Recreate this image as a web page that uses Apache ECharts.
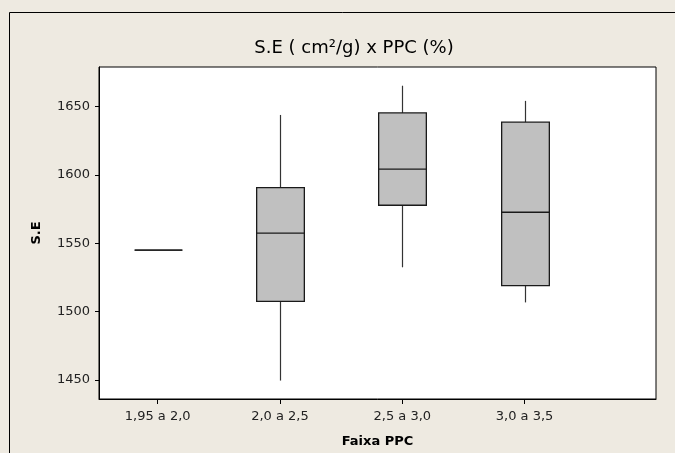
<!DOCTYPE html>
<html>
<head>
<meta charset="utf-8">
<script src="https://cdn.jsdelivr.net/npm/echarts@6/dist/echarts.min.js"></script>
<style>html,body{margin:0;padding:0;background:#EEEAE1;}#c{width:675px;height:453px;}</style>
</head>
<body>
<div id="c"></div>
<script>
// Data
const categories = ['1,95 a 2,0', '2,0 a 2,5', '2,5 a 3,0', '3,0 a 3,5'];
const whiskerLow = [1545, 1449.5, 1532.4, 1506.7];
const q1 = [1545, 1507.4, 1577.8, 1519.0];
const median = [1545, 1557.4, 1604.3, 1572.7];
const q3 = [1545, 1590.7, 1645.4, 1638.6];
const whiskerHigh = [1545, 1643.9, 1665.3, 1654.2];
const yTicks = [1450, 1500, 1550, 1600, 1650];

const positions = categories.map((c, i) => i + 1);
const boxData = categories.map((c, i) => [positions[i], whiskerLow[i], q1[i], median[i], q3[i], whiskerHigh[i]]);

const font = 'DejaVu Sans';
const chart = echarts.init(document.getElementById('c'), null, {renderer: 'canvas'});
chart.setOption({
  animation: false,
  backgroundColor: '#EEEAE1',
  title: {
    text: 'S.E ( cm²/g) x PPC (%)',
    left: 349, top: 34, textAlign: 'center',
    textStyle: {fontFamily: font, fontSize: 18, fontWeight: 'normal', color: '#000'}
  },
  graphic: [{
    type: 'polyline', silent: true,
    shape: {points: [[9.5, 460], [9.5, 12.5], [680, 12.5]]},
    style: {stroke: '#000', lineWidth: 1, fill: null}
  }],
  grid: {left: 99, top: 67, right: 19, bottom: 54, show: true, backgroundColor: '#fff', borderColor: '#000', borderWidth: 1},
  xAxis: {
    type: 'value', min: 0.52, max: 5.075,
    name: 'Faixa PPC', nameLocation: 'middle', nameGap: 36,
    nameTextStyle: {fontFamily: font, fontSize: 13, fontWeight: 'bold', color: '#000'},
    axisLine: {show: true, lineStyle: {color: '#000'}},
    splitLine: {show: false},
    axisTick: {show: true, length: 5, customValues: positions, lineStyle: {color: '#000'}},
    axisLabel: {customValues: positions, fontFamily: font, fontSize: 13, color: '#222', margin: 11,
      formatter: v => categories[Math.round(v) - 1]}
  },
  yAxis: {
    type: 'value', min: 1436, max: 1679,
    name: 'S.E', nameLocation: 'middle', nameGap: 56, nameRotate: 90,
    nameTextStyle: {fontFamily: font, fontSize: 13, fontWeight: 'bold', color: '#000'},
    axisLine: {show: true, lineStyle: {color: '#000'}},
    splitLine: {show: false},
    axisTick: {show: true, length: 4, customValues: yTicks, lineStyle: {color: '#000'}},
    axisLabel: {customValues: yTicks, fontFamily: font, fontSize: 13, color: '#222', margin: 9,
      formatter: v => String(v)}
  },
  series: [{
    type: 'custom',
    data: boxData,
    encode: {x: 0, y: [1, 2, 3, 4, 5]},
    renderItem: function (params, api) {
      const x = api.value(0);
      const w = api.size([0.39, 0])[0];
      const pLow = api.coord([x, api.value(1)]);
      const pQ1 = api.coord([x, api.value(2)]);
      const pMed = api.coord([x, api.value(3)]);
      const pQ3 = api.coord([x, api.value(4)]);
      const pHigh = api.coord([x, api.value(5)]);
      const cx = Math.round(pMed[0]) + 0.5;
      const lineStyle = {stroke: '#333', lineWidth: 1.2};
      return {
        type: 'group',
        children: [
          {type: 'line', shape: {x1: cx, y1: pHigh[1], x2: cx, y2: pQ3[1]}, style: lineStyle},
          {type: 'line', shape: {x1: cx, y1: pQ1[1], x2: cx, y2: pLow[1]}, style: lineStyle},
          {type: 'rect', shape: {x: cx - w / 2, y: pQ3[1], width: w, height: pQ1[1] - pQ3[1]},
            style: {fill: '#C0C0C0', stroke: '#1a1a1a', lineWidth: 1.3}},
          {type: 'line', shape: {x1: cx - w / 2, y1: pMed[1], x2: cx + w / 2, y2: pMed[1]}, style: {stroke: '#1a1a1a', lineWidth: 1.3}}
        ]
      };
    }
  }]
});
</script>
</body>
</html>
